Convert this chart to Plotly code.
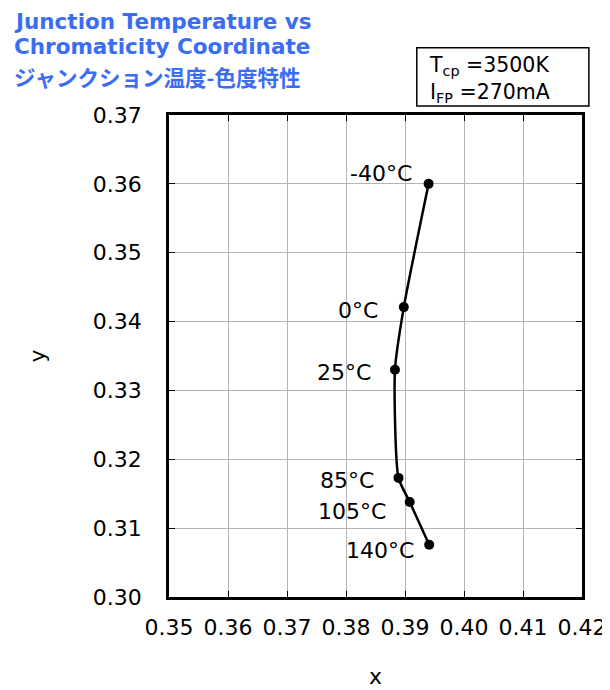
import plotly.graph_objects as go

temps = ["-40°C", "0°C", "25°C", "85°C", "105°C", "140°C"]
cx = [0.3940, 0.3898, 0.3883, 0.3889, 0.3908, 0.3941]
cy = [0.3600, 0.3421, 0.3330, 0.3173, 0.3138, 0.3076]
x_ticks = [0.35, 0.36, 0.37, 0.38, 0.39, 0.40, 0.41, 0.42]
y_ticks = [0.30, 0.31, 0.32, 0.33, 0.34, 0.35, 0.36, 0.37]

L, R, T, B = 161, 29, 107, 95
W, H = 610, 690
PW, PH = W - L - R, H - T - B

def px_x(fx):
    return (fx - L) / PW

def px_y(fy):
    return 1 + (T - fy) / PH

fig = go.Figure()
fig.add_trace(go.Scatter(
    x=cx, y=cy, mode="lines+markers",
    line=dict(color="black", width=2.5, shape="spline", smoothing=0.6),
    marker=dict(color="black", size=10),
    showlegend=False,
))

# label pixel shifts (x, y-up)
shifts = [(-15, 10), (-24, -3), (-22, -3), (-23, -3), (-22, -10), (-13, -6)]
for t, x, y, (sx, sy) in zip(temps, cx, cy, shifts):
    fig.add_annotation(x=x, y=y, text=t, showarrow=False, xanchor="right",
                       yanchor="middle", xshift=sx, yshift=sy,
                       font=dict(family="DejaVu Sans", size=22, color="black"))

axis_common = dict(showgrid=True, gridcolor="#b4b4b4", gridwidth=1,
                   showline=True, linecolor="black", linewidth=2.5, mirror="ticks",
                   ticks="inside", ticklen=6, tickcolor="black", tickwidth=1,
                   zeroline=False,
                   tickfont=dict(size=22, family="DejaVu Sans", color="black"))
fig.update_xaxes(range=[0.35, 0.42], tickvals=x_ticks,
                 ticktext=[f"{v:.2f}" for v in x_ticks], ticklabelstandoff=9,
                 title=dict(text="x", font=dict(size=22, family="DejaVu Sans", color="black"), standoff=30),
                 **axis_common)
fig.update_yaxes(range=[0.30, 0.37], tickvals=y_ticks,
                 ticktext=[f"{v:.2f}" for v in y_ticks], ticklabelstandoff=20,
                 title=dict(text="y", font=dict(size=22, family="DejaVu Sans", color="black"), standoff=42),
                 **axis_common)

blue = "#3a6cf4"
title_lines = [("<b>Junction Temperature vs</b>", "DejaVu Sans", 12),
               ("<b>Chromaticity Coordinate</b>", "DejaVu Sans", 38),
               ("<b>ジャンクション温度-色度特性</b>", "Noto Sans CJK JP", 68)]
for txt, fam, py in title_lines:
    fig.add_annotation(xref="paper", yref="paper", x=px_x(0), y=px_y(py),
                       xanchor="left", yanchor="middle", xshift=1,
                       align="left", showarrow=False, text=txt,
                       font=dict(family=fam, size=21.5, color=blue))

# condition box
fig.add_shape(type="rect", xref="paper", yref="paper",
              x0=px_x(413), x1=px_x(588), y0=px_y(98), y1=px_y(39),
              line=dict(color="black", width=1.5), fillcolor="white", layer="above")
fig.add_annotation(xref="paper", yref="paper", x=px_x(423), y=px_y(71),
                   xanchor="left", yanchor="middle", align="left", showarrow=False,
                   text="T<sub>cp</sub> =3500K<br>I<sub>FP</sub> =270mA",
                   font=dict(family="DejaVu Sans", size=20.5, color="black"))

fig.update_layout(width=W, height=H,
                  margin=dict(l=L, r=R, t=T, b=B),
                  paper_bgcolor="white", plot_bgcolor="white",
                  font=dict(family="DejaVu Sans"))
fig.write_html("out.html")
